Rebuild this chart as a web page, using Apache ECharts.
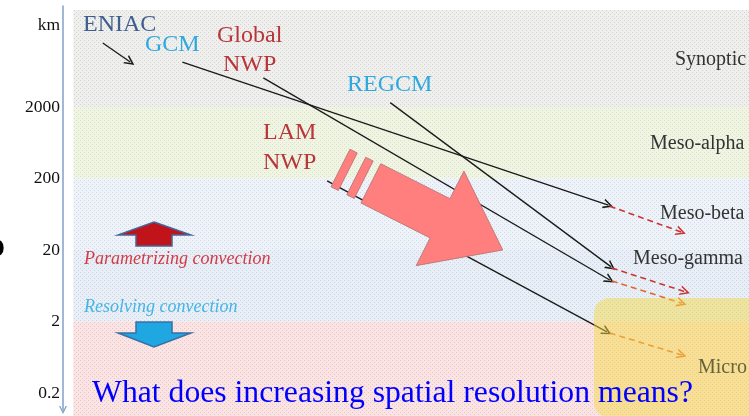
<!DOCTYPE html>
<html><head><meta charset="utf-8">
<script src="https://cdn.jsdelivr.net/npm/echarts@6/dist/echarts.min.js"></script>
<style>html,body{margin:0;padding:0;background:#fff;overflow:hidden}#c{width:749px;height:416px}</style>
</head><body><div id="c"></div>
<script>
// ---- data (x: abstract horizontal position 0-100, y: horizontal scale in km, log) ----
const tickValues = [0.2, 2, 20, 200, 2000, 28000];
const tickLabels = ['0.2', '2', '20', '200', '2000', 'km'];

const bandNames = ['Synoptic', 'Meso-alpha', 'Meso-beta', 'Meso-gamma', 'Micro'];
const bandTopKm = [45500, 2000, 200, 20, 2];
const bandBottomKm = [2000, 200, 20, 2, 0.09];
const bandXRange = [1.5, 100];

const modelNames = ['ENIAC', 'GCM', 'Global NWP', 'REGCM', 'LAM NWP'];
const modelStartX = [5.8, 17.4, 29.2, 47.7, 38.5];
const modelStartKm = [15700, 8500, 5100, 2300, 185];
const modelEndX = [9.8, 79.5, 79.7, 79.9, 79.3];
const modelEndKm = [8500, 85, 7.6, 11.6, 1.43];

const futureRedStartX = [79.7, 80.0];
const futureRedStartKm = [82, 11.2];
const futureRedEndX = [90.1, 90.7];
const futureRedEndKm = [35.7, 5.2];

const futureOrangeStartX = [80.0, 79.7];
const futureOrangeStartKm = [7.4, 1.38];
const futureOrangeEndX = [90.2, 90.2];
const futureOrangeEndKm = [3.6, 0.68];

const microZoneX = [77.4, 102];
const microZoneKm = [4.27, 0.09];

const bigArrowTail = [40.45, 280];
const bigArrowTip = [64.1, 20];

// ---- helpers ----
const lg = Math.log10;
const SERIF = '"Liberation Serif","Times New Roman",serif';
const chevron = 'path://M5,0L10,10L8.3,10L5,3.4L1.7,10L0,10Z';

function dotted(base, dot) {
  const c = document.createElement('canvas');
  c.width = 4; c.height = 4;
  const g = c.getContext('2d');
  g.fillStyle = base; g.fillRect(0, 0, 4, 4);
  g.fillStyle = dot; g.fillRect(0, 0, 1, 1); g.fillRect(2, 2, 1, 1);
  return { image: c, repeat: 'repeat' };
}
const bandFills = [
  dotted('#efefed', '#d2d2cf'),
  dotted('#f0f5e3', '#d8e0c8'),
  dotted('#edf3f9', '#d0d8e3'),
  dotted('#e9eff7', '#c9d2de'),
  dotted('#fae4e4', '#e9c3c3')
];

function labelFor(v) {
  let best = 0, bd = Infinity;
  tickValues.forEach((t, i) => { const d = Math.abs(lg(t) - v); if (d < bd) { bd = d; best = i; } });
  return tickLabels[best];
}

const chart = echarts.init(document.getElementById('c'), null, { renderer: 'canvas' });

function txt(text, x, y, fill, font, extra) {
  return Object.assign({ type: 'text', x: x, y: y, z: 50,
    style: { text: text, fill: fill, font: font, verticalAlign: 'middle', align: 'left' } }, extra || {});
}

chart.setOption({
  animation: false,
  backgroundColor: '#ffffff',
  grid: { left: 63, right: 0, top: 6, bottom: 6, containLabel: false },
  xAxis: { type: 'value', min: 0, max: 100, show: false },
  yAxis: {
    type: 'value', min: -0.937, max: 4.713,
    splitLine: { show: false }, axisTick: { show: false },
    axisLine: { show: true, lineStyle: { color: '#7fa0c8', width: 1.5 },
      symbol: [chevron, 'none'], symbolSize: [8, 8] },
    axisLabel: { customValues: tickValues.map(lg), formatter: labelFor,
      color: '#111', fontFamily: SERIF, fontSize: 17.5, margin: 3 }
  },
  series: [
    { // scale bands
      type: 'custom', z: 1,
      encode: { x: [0, 2], y: [1, 3] },
      data: bandNames.map((n, i) => [bandXRange[0], lg(bandTopKm[i]), bandXRange[1], lg(bandBottomKm[i])]),
      renderItem: (params, api) => {
        const p0 = api.coord([api.value(0), api.value(1)]);
        const p1 = api.coord([api.value(2), api.value(3)]);
        return { type: 'rect', shape: { x: p0[0], y: p0[1], width: p1[0] - p0[0], height: p1[1] - p0[1] },
          style: { fill: bandFills[params.dataIndex] } };
      }
    },
    { // model arrows
      type: 'lines', coordinateSystem: 'cartesian2d', z: 3,
      symbol: ['none', chevron], symbolSize: [9, 10],
      lineStyle: { color: '#1a1a1a', width: 1.3, opacity: 1 },
      data: modelNames.map((n, i) => ({ name: n,
        coords: [[modelStartX[i], lg(modelStartKm[i])], [modelEndX[i], lg(modelEndKm[i])]] }))
    },
    {
      type: 'lines', coordinateSystem: 'cartesian2d', z: 3,
      symbol: ['none', chevron], symbolSize: [9, 10],
      lineStyle: { color: '#cc3333', width: 1.6, type: [6, 4], opacity: 1 },
      data: futureRedStartX.map((x, i) => ({
        coords: [[x, lg(futureRedStartKm[i])], [futureRedEndX[i], lg(futureRedEndKm[i])]] }))
    },
    {
      type: 'lines', coordinateSystem: 'cartesian2d', z: 3,
      symbol: ['none', chevron], symbolSize: [9, 10],
      lineStyle: { color: '#e0692a', width: 1.6, type: [6, 4], opacity: 1 },
      data: futureOrangeStartX.map((x, i) => ({
        coords: [[x, lg(futureOrangeStartKm[i])], [futureOrangeEndX[i], lg(futureOrangeEndKm[i])]] }))
    },
    { // microscale zone
      type: 'custom', z: 4,
      encode: { x: [0, 2], y: [1, 3] },
      data: [[microZoneX[0], lg(microZoneKm[0]), microZoneX[1], lg(microZoneKm[1])]],
      renderItem: (params, api) => {
        const p0 = api.coord([api.value(0), api.value(1)]);
        const p1 = api.coord([api.value(2), api.value(3)]);
        return { type: 'rect', shape: { x: p0[0], y: p0[1], width: p1[0] - p0[0], height: p1[1] - p0[1], r: 16 },
          style: { fill: 'rgba(244,218,72,0.5)' } };
      }
    },
    { // big resolution arrow
      type: 'custom', z: 5,
      encode: { x: [0, 2], y: [1, 3] },
      data: [[bigArrowTail[0], lg(bigArrowTail[1]), bigArrowTip[0], lg(bigArrowTip[1])]],
      renderItem: (params, api) => {
        const a = api.coord([api.value(0), api.value(1)]);
        const b = api.coord([api.value(2), api.value(3)]);
        const dx = b[0] - a[0], dy = b[1] - a[1];
        const L = Math.sqrt(dx * dx + dy * dy), k = L / 181.7;
        const d = [dx / L, dy / L], n = [-d[1], d[0]];
        const S = (t, w) => [a[0] + t * k * d[0] + w * k * n[0], a[1] + t * k * d[1] + w * k * n[1]];
        const st = { fill: '#ff7f7f', stroke: '#b07070', lineWidth: 0.8 };
        return { type: 'group', children: [
          { type: 'polygon', shape: { points: [S(0, -21), S(8.2, -21), S(8.2, 21), S(0, 21)] }, style: st },
          { type: 'polygon', shape: { points: [S(17.7, -21), S(26, -21), S(26, 21), S(17.7, 21)] }, style: st },
          { type: 'polygon', shape: { points: [S(34, -22), S(111.5, -22), S(111.5, -53), S(181.7, 0),
            S(111.5, 53), S(111.5, 22), S(34, 22)] }, style: st }
        ] };
      }
    }
  ],
  graphic: [
    txt('ENIAC', 83, 25, '#3f5e8e', '24px ' + SERIF),
    txt('GCM', 145, 45, '#2fa8de', '24px ' + SERIF),
    txt('Global', 217, 36, '#b8353a', '24px ' + SERIF),
    txt('NWP', 223, 65, '#b8353a', '24px ' + SERIF),
    txt('REGCM', 347, 85, '#2fa8de', '24px ' + SERIF),
    txt('LAM', 263, 132.5, '#b8353a', '24px ' + SERIF),
    txt('NWP', 263, 163, '#b8353a', '24px ' + SERIF),
    txt(bandNames[0], 675, 60, '#333333', '20px ' + SERIF),
    txt(bandNames[1], 650, 144, '#333333', '20px ' + SERIF),
    txt(bandNames[2], 660, 214, '#333333', '20px ' + SERIF),
    txt(bandNames[3], 633, 259, '#333333', '20px ' + SERIF),
    txt(bandNames[4], 698, 367.5, '#66633a', '20px ' + SERIF),
    txt('Parametrizing convection', 84, 259, '#d23a48', 'italic 18px ' + SERIF),
    txt('Resolving convection', 84, 307.5, '#45b5e6', 'italic 18px ' + SERIF),
    txt('What does increasing spatial resolution means?', 92, 393.5, '#0000ff', '31.7px ' + SERIF),
    { type: 'text', x: 5, y: 248, z: 50,
      style: { text: 'o', fill: '#000', font: 'bold 34px "Liberation Sans",sans-serif', align: 'right', verticalAlign: 'middle' } },
    { type: 'polygon', z: 40,
      shape: { points: [[154, 222], [191, 235], [172, 235], [172, 246], [136, 246], [136, 235], [118, 235]] },
      style: { fill: '#c0141a', stroke: '#46659a', lineWidth: 1.5 } },
    { type: 'polygon', z: 40,
      shape: { points: [[136, 322], [172, 322], [172, 333], [191, 333], [154, 347], [118, 333], [136, 333]] },
      style: { fill: '#1ea7e1', stroke: '#3a6ea5', lineWidth: 1.5 } }
  ]
});
</script>
</body></html>
